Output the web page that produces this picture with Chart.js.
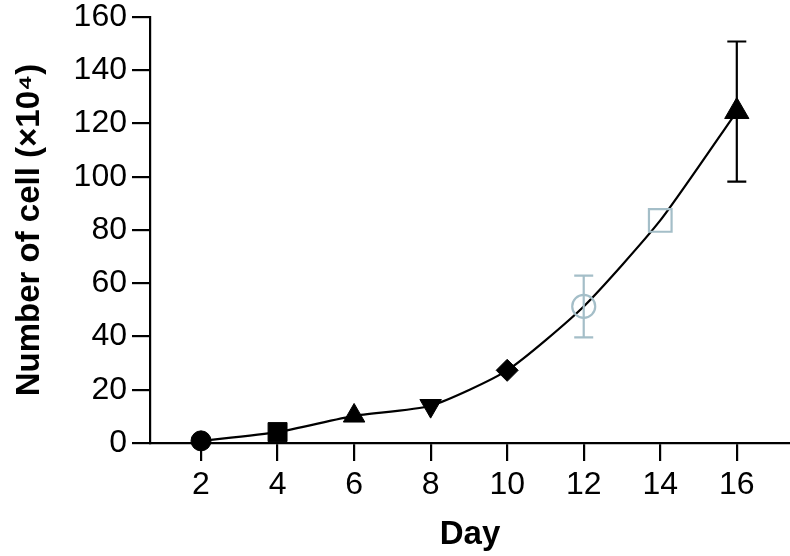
<!DOCTYPE html>
<html>
<head>
<meta charset="utf-8">
<script src="https://cdn.jsdelivr.net/npm/chart.js@4"></script>
<style>
  html, body { margin: 0; padding: 0; background: #ffffff; }
  #wrap { width: 790px; height: 556px; }
</style>
</head>
<body>
<div id="wrap"><canvas id="c" width="790" height="556"></canvas></div>
<script>
// ---- data ----
const days = [2, 4, 6, 8, 10, 12, 14, 16];
const cellCounts = [0.8, 4.1, 10.2, 14.0, 27.3, 51.3, 83.6, 124.5];
const cellErrors = [0, 0, 0, 0, 0, 11.6, 0, 26.3];
const xTickValues = [2, 4, 6, 8, 10, 12, 14, 16];
const yTickValues = [0, 20, 40, 60, 80, 100, 120, 140, 160];
const markerShapes = ['circle', 'rect', 'triangle', 'triangle', 'rectRot', 'circle', 'rect', 'triangle'];
const markerRotations = [0, 0, 0, 180, 0, 0, 0, 0];
const xTitle = 'Day';
const yTitle = 'Number of cell (×10⁴)';

// ---- styles ----
const INK = '#000000';
const PALE = '#a4bec8';
const markerFill = [INK, INK, INK, INK, INK, 'rgba(0,0,0,0)', 'rgba(0,0,0,0)', INK];
const markerStroke = [INK, INK, INK, INK, INK, PALE, PALE, INK];
const markerBorderW = [1, 1, 1, 1, 1, 2.2, 2.2, 1];
const markerRadius = [10, 13.4, 12.4, 12.4, 11, 11.5, 16, 14];
const errColor = [INK, INK, INK, INK, INK, PALE, INK, INK];

const errorBars = {
  id: 'errorBars',
  afterDatasetsDraw(chart) {
    const ctx = chart.ctx;
    const xs = chart.scales.x, ys = chart.scales.y;
    ctx.save();
    ctx.lineWidth = 2.2;
    days.forEach((d, i) => {
      const e = cellErrors[i];
      if (!e) return;
      const px = xs.getPixelForValue(d);
      const top = ys.getPixelForValue(cellCounts[i] + e);
      const bot = ys.getPixelForValue(cellCounts[i] - e);
      const cap = 9.5;
      ctx.strokeStyle = errColor[i];
      ctx.beginPath();
      ctx.moveTo(px, top); ctx.lineTo(px, bot);
      ctx.moveTo(px - cap, top); ctx.lineTo(px + cap, top);
      ctx.moveTo(px - cap, bot); ctx.lineTo(px + cap, bot);
      ctx.stroke();
    });
    ctx.restore();
  }
};

const xTickFont = { family: '"Liberation Sans", Arial, sans-serif', size: 32, lineHeight: 1.1 };
const yTickFont = { family: '"Liberation Sans", Arial, sans-serif', size: 32, lineHeight: 0.7 };
const titleFont = { family: '"Liberation Sans", Arial, sans-serif', size: 33, weight: 'bold', lineHeight: 1.2 };

new Chart(document.getElementById('c'), {
  type: 'line',
  data: {
    datasets: [{
      data: days.map((d, i) => ({ x: d, y: cellCounts[i] })),
      borderColor: INK,
      borderWidth: 2.2,
      tension: 0.2,
      fill: false,
      clip: false,
      pointStyle: markerShapes,
      rotation: markerRotations,
      pointRadius: markerRadius,
      pointHoverRadius: markerRadius,
      pointBackgroundColor: markerFill,
      pointBorderColor: markerStroke,
      pointBorderWidth: markerBorderW
    }]
  },
  options: {
    responsive: false,
    animation: false,
    events: [],
    layout: { autoPadding: false, padding: { top: 17, right: 0, left: 0, bottom: 0 } },
    plugins: { legend: { display: false }, tooltip: { enabled: false } },
    scales: {
      x: {
        type: 'linear',
        min: 0.667,
        max: 17.39,
        afterBuildTicks: s => { s.ticks = xTickValues.map(v => ({ value: v })); },
        afterFit: s => { s.height = 113; },
        border: { display: true, color: INK, width: 2.2 },
        grid: { drawOnChartArea: false, drawTicks: true, tickLength: 18, color: INK, lineWidth: 2.2 },
        ticks: { color: INK, font: xTickFont, padding: 7, maxRotation: 0, autoSkip: false },
        title: { display: true, text: xTitle, color: INK, font: titleFont, padding: { top: 0, bottom: 1 } }
      },
      y: {
        type: 'linear',
        min: 0,
        max: 160,
        afterBuildTicks: s => { s.ticks = yTickValues.map(v => ({ value: v })); },
        afterFit: s => { s.width = 150; },
        border: { display: true, color: INK, width: 2.2 },
        grid: { drawOnChartArea: false, drawTicks: true, tickLength: 18, color: INK, lineWidth: 2.2 },
        ticks: { color: INK, font: yTickFont, padding: 5, autoSkip: false },
        title: { display: true, text: yTitle, color: INK, font: titleFont, padding: { top: 10, bottom: 0 } }
      }
    }
  },
  plugins: [errorBars]
});
</script>
</body>
</html>
